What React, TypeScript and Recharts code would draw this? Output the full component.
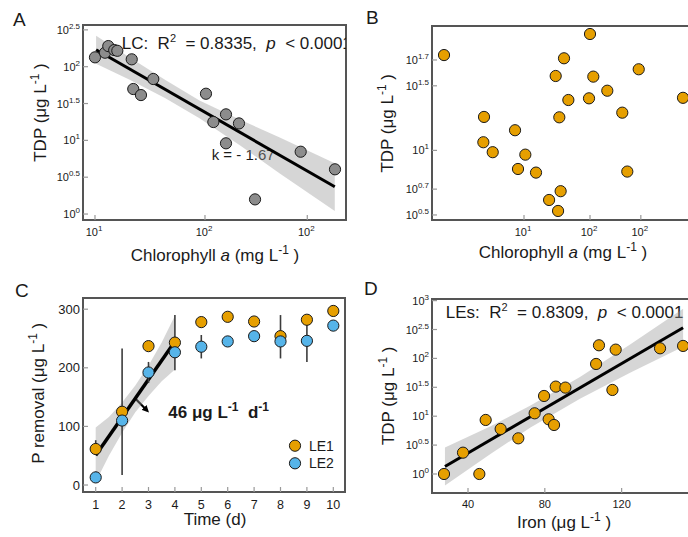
import React from 'react';
import {
  ComposedChart,
  Scatter,
  Line,
  Area,
  XAxis,
  YAxis,
  ErrorBar,
  Customized,
} from 'recharts';

const FONT = '"Liberation Sans", Arial, Helvetica, sans-serif';
const ORANGE = '#E69F00';
const BLUE = '#56B4E9';
const GREY_PT = '#8c8c8c';
const BAND = '#999999';
const FRAME = '#555555';
const TICK = '#999999';
const INK = '#1a1a1a';

// ---- Panel A: log10 chlorophyll a vs log10 TDP (LC) ----
const lcChl = [1.0, 1.091, 1.121, 1.175, 1.203, 1.334, 1.53, 1.348, 1.418, 2.009, 2.076, 2.191, 2.309, 2.191, 2.455, 2.87, 3.182];
const lcTdp = [2.127, 2.19, 2.28, 2.226, 2.216, 2.1, 1.833, 1.697, 1.615, 1.633, 1.249, 1.353, 1.23, 0.96, 0.199, 0.846, 0.607];
const lcBandX = [1.01, 1.32, 1.64, 1.95, 2.32, 2.68, 3.18];
const lcBandLo = [2.04, 1.82, 1.57, 1.3, 0.93, 0.55, 0.04];
const lcBandHi = [2.42, 2.12, 1.82, 1.54, 1.28, 1.04, 0.69];
const lcFit = [2.23, null, null, null, null, null, 0.37];
const lcXTicks = [1, 2, 2.93];
const lcXTickLabels = ['1', '2', '2'];
const lcYTicks = [0, 0.5, 1, 1.5, 2, 2.5];

// ---- Panel B: chlorophyll a vs TDP (LE) ----
const leChl = [-0.212, 2.0, 1.606, 1.48, 2.05, 2.738, 2.262, 1.672, 1.985, 3.409, 0.394, 1.535, 2.489, 0.864, 0.384, 0.526, 1.02, 0.909, 1.182, 2.565, 1.555, 1.38, 1.516];
const leTdp = [1.738, 1.901, 1.713, 1.576, 1.571, 1.628, 1.462, 1.39, 1.403, 1.407, 1.259, 1.256, 1.292, 1.156, 1.063, 0.986, 0.967, 0.856, 0.828, 0.836, 0.684, 0.616, 0.531];
const leXTicks = [1, 2, 2.77];
const leXTickLabels = ['1', '2', '2'];
const leYTicks = [0.5, 0.7, 1, 1.5, 1.7];

// ---- Panel C: P removal over time ----
const days = [1, 2, 3, 4, 5, 6, 7, 8, 9, 10];
const le1Removal = [61.5, 125, 237, 243, 278, 287, 279, 254, 282, 297];
const le2Removal = [13, 110, 192, 226.5, 236, 245, 254, 245, 246, 272];
const le1Err = [[8, 15], [108, 108], 0, [47, 47], 0, 0, 0, [38, 36], 0, 0];
const le2Err = [[9, 10], 0, [18, 18], 0, [20, 20], 0, 0, 0, [36, 27], 0];
const rateBandX = [1, 1.5, 2, 2.5, 3, 3.5, 4];
const rateBandLo = [5, 50, 89, 124, 152, 177, 197];
const rateBandHi = [98, 116, 141, 170, 204, 243, 289];
const rateFit = [51, null, null, null, null, null, 245];
const cYTicks = [0, 100, 200, 300];

// ---- Panel D: iron vs log10 TDP (LEs) ----
const iron = [27.5, 37.4, 45.9, 49.2, 57.0, 66.2, 74.7, 79.6, 82.0, 84.8, 85.7, 90.7, 106.7, 108.2, 115.2, 116.9, 140, 152];
const ironTdp = [0, 0.369, 0, 0.935, 0.779, 0.617, 1.05, 1.35, 0.946, 0.848, 1.512, 1.495, 1.904, 2.227, 1.454, 2.152, 2.175, 2.216];
const ironBandX = [28, 51.5, 72.3, 98.3, 124.4, 152];
const ironBandLo = [-0.2, 0.34, 0.8, 1.3, 1.75, 2.2];
const ironBandHi = [0.46, 0.82, 1.18, 1.68, 2.24, 2.86];
const ironFit = [0.13, null, null, null, null, 2.53];
const dXTicks = [40, 80, 120];
const dYTicks = [0, 0.5, 1, 1.5, 2, 2.5, 3];

const zipXY = (xs: number[], ys: number[]) => xs.map((x, i) => ({ x, y: ys[i] }));
const zipBand = (xs: number[], lo: number[], hi: number[], fit: (number | null)[]) =>
  xs.map((x, i) => ({ x, band: [lo[i], hi[i]], fit: fit[i] }));

const lcPoints = zipXY(lcChl, lcTdp);
const lcBand = zipBand(lcBandX, lcBandLo, lcBandHi, lcFit);
const lePoints = zipXY(leChl, leTdp);
const le1Points = days.map((x, i) => ({ x, y: le1Removal[i], err: le1Err[i] }));
const le2Points = days.map((x, i) => ({ x, y: le2Removal[i], err: le2Err[i] }));
const rateBand = zipBand(rateBandX, rateBandLo, rateBandHi, rateFit);
const ironPoints = zipXY(iron, ironTdp);
const ironBand = zipBand(ironBandX, ironBandLo, ironBandHi, ironFit);

const dot = (fill: string) => (p: any) => (
  <circle cx={p.cx} cy={p.cy} r={5.6} fill={fill} stroke={INK} strokeWidth={1} />
);
const noDot = () => <g />;

// tick with "10^x" label, tick mark drawn inward from the frame
function PowTick(props: any) {
  const { x, y, index, payload, side, edge, labels } = props;
  const exp = labels ? labels[index] : String(payload.value);
  if (side === 'left') {
    return (
      <g>
        <line x1={edge} x2={edge + 5} y1={y} y2={y} stroke={TICK} strokeWidth={1.2} />
        <text x={edge - 3} y={y + 4} textAnchor="end" fontFamily={FONT} fontSize={11} fill={INK}>
          <tspan>10</tspan>
          <tspan dy={-5} fontSize={8}>{exp}</tspan>
        </text>
      </g>
    );
  }
  return (
    <g>
      <line x1={x} x2={x} y1={edge} y2={edge - 5} stroke={TICK} strokeWidth={1.2} />
      <text x={x - 1} y={edge + 16} textAnchor="middle" fontFamily={FONT} fontSize={11} fill={INK}>
        <tspan>10</tspan>
        <tspan dy={-5} fontSize={8}>{exp}</tspan>
      </text>
    </g>
  );
}

function NumTick(props: any) {
  const { x, y, payload, side, edge, fs = 13, gap = 16 } = props;
  if (side === 'left') {
    return (
      <g>
        <line x1={edge} x2={edge + 5} y1={y} y2={y} stroke={TICK} strokeWidth={1.2} />
        <text x={edge - 3} y={y + fs * 0.36} textAnchor="end" fontFamily={FONT} fontSize={fs} fill={INK}>
          {payload.value}
        </text>
      </g>
    );
  }
  return (
    <g>
      <line x1={x} x2={x} y1={edge} y2={edge - 5} stroke={TICK} strokeWidth={1.2} />
      <text x={x} y={edge + gap} textAnchor="middle" fontFamily={FONT} fontSize={fs} fill={INK}>
        {payload.value}
      </text>
    </g>
  );
}

const pre = { whiteSpace: 'pre' } as React.CSSProperties;

function UnitText({ x, y, lead, rotate = false, anchor = 'middle' }: any) {
  return (
    <text
      x={x}
      y={y}
      textAnchor={anchor}
      fontSize={17}
      style={pre}
      transform={rotate ? `rotate(-90 ${x} ${y})` : undefined}
    >
      {lead}
      <tspan dy={-7} fontSize={12}>-1</tspan>
      <tspan dy={7}> )</tspan>
    </text>
  );
}

// grey box round the plotting region
const FrameRect = ({ x, y, w, h }: any) => (
  <path
    d={`M${x},${y} H${x + w} V${y + h} H${x} Z`}
    fill="none"
    stroke={FRAME}
    strokeWidth={2}
  />
);

const TextA = () => (
  <g fontFamily={FONT} fill={INK}>
    <defs>
      <clipPath id="clipA">
        <rect x={83} y={25} width={263} height={195} />
      </clipPath>
    </defs>
    <FrameRect x={83} y={25} w={263} h={195} />
    <text x={13} y={26} fontSize={19}>A</text>
    <text x={121.7} y={48.5} fontSize={17} clipPath="url(#clipA)" style={pre}>
      <tspan>LC:  R</tspan>
      <tspan dy={-7} fontSize={11}>2</tspan>
      <tspan dy={7}>  = 0.8335,  </tspan>
      <tspan fontStyle="italic">p</tspan>
      <tspan>  &lt; 0.0001</tspan>
    </text>
    <text x={211.7} y={160} fontSize={15}>k = - 1.67</text>
    <UnitText x={215} y={261} lead={<><tspan>Chlorophyll </tspan><tspan fontStyle="italic">a</tspan><tspan> (mg L</tspan></>} />
    <UnitText x={45.5} y={112.5} rotate lead={<tspan>TDP (μg L</tspan>} />
  </g>
);

const TextB = () => (
  <g fontFamily={FONT} fill={INK}>
    <FrameRect x={88} y={26} w={258} h={194} />
    <text x={22} y={24} fontSize={19}>B</text>
    <UnitText x={219} y={258} lead={<><tspan>Chlorophyll </tspan><tspan fontStyle="italic">a</tspan><tspan> (mg L</tspan></>} />
    <UnitText x={49} y={123.3} rotate lead={<tspan>TDP (μg L</tspan>} />
  </g>
);

const TextC = () => (
  <g fontFamily={FONT} fill={INK}>
    <defs>
      <marker id="arrowC" viewBox="0 0 10 10" refX="6" refY="5" markerWidth="3.2" markerHeight="3.2" orient="auto">
        <path d="M0,0 L10,5 L0,10 z" fill="#000" />
      </marker>
    </defs>
    <FrameRect x={83} y={28} w={262} h={194} />
    <text x={15} y={26.5} fontSize={19}>C</text>
    <line x1={135} y1={128.3} x2={147} y2={140.5} stroke="#000" strokeWidth={2.2} markerEnd="url(#arrowC)" />
    <text x={168.3} y={148.3} fontSize={17} fontWeight="bold" style={pre}>
      <tspan>46 μg L</tspan>
      <tspan dy={-7} fontSize={12}>-1</tspan>
      <tspan dy={7}>  d</tspan>
      <tspan dy={-7} fontSize={12}>-1</tspan>
    </text>
    <circle cx={295} cy={175.7} r={5.6} fill={ORANGE} stroke={INK} />
    <circle cx={295} cy={193.3} r={5.6} fill={BLUE} stroke={INK} />
    <text x={309} y={180.5} fontSize={14}>LE1</text>
    <text x={309} y={198} fontSize={14}>LE2</text>
    <text x={215} y={255} fontSize={17} textAnchor="middle">Time (d)</text>
    <UnitText x={44} y={123.3} rotate lead={<tspan>P removal (μg L</tspan>} />
  </g>
);

const TextD = () => (
  <g fontFamily={FONT} fill={INK}>
    <FrameRect x={88} y={29} w={258} h={194} />
    <text x={20} y={25} fontSize={19}>D</text>
    <text x={101.7} y={47.7} fontSize={17} style={pre}>
      <tspan>LEs:  R</tspan>
      <tspan dy={-7} fontSize={11}>2</tspan>
      <tspan dy={7}>  = 0.8309,  </tspan>
      <tspan fontStyle="italic">p</tspan>
      <tspan>  &lt; 0.0001</tspan>
    </text>
    <UnitText x={220} y={258.3} lead={<tspan>Iron (μg L</tspan>} />
    <UnitText x={50} y={125.8} rotate lead={<tspan>TDP (μg L</tspan>} />
  </g>
);

function PanelA() {
  const xd = [0.891, 3.282];
  const yd = [-0.081, 2.566];
  return (
    <div style={{ position: 'absolute', left: 0, top: 0, width: 350, height: 270 }}>
      <ComposedChart width={350} height={270} data={lcBand} margin={{ top: 25, right: 4, left: 0, bottom: 0 }}>
        <XAxis type="number" dataKey="x" domain={xd} allowDataOverflow ticks={lcXTicks} interval={0}
          tickLine={false} axisLine={false} height={50}
          tick={<PowTick side="bottom" edge={220} labels={lcXTickLabels} />} />
        <YAxis type="number" dataKey="y" domain={yd} allowDataOverflow ticks={lcYTicks} interval={0}
          tickLine={false} axisLine={false} width={83}
          tick={<PowTick side="left" edge={83} />} />
        <Scatter data={lcPoints} shape={dot(GREY_PT)} isAnimationActive={false} />
        <Area dataKey="band" type="linear" stroke="none" fill={BAND} fillOpacity={0.4} isAnimationActive={false} />
        <Line dataKey="fit" stroke="#000" strokeWidth={3} dot={false} connectNulls isAnimationActive={false} />
        <Customized component={<TextA />} />
      </ComposedChart>
    </div>
  );
}

function PanelB() {
  const xd = [-0.394, 3.515];
  const yd = [0.461, 1.963];
  return (
    <div style={{ position: 'absolute', left: 344, top: 0, width: 350, height: 270 }}>
      <ComposedChart width={350} height={270} margin={{ top: 26, right: 4, left: 0, bottom: 0 }}>
        <XAxis type="number" dataKey="x" domain={xd} allowDataOverflow ticks={leXTicks} interval={0}
          tickLine={false} axisLine={false} height={50}
          tick={<PowTick side="bottom" edge={220} labels={leXTickLabels} />} />
        <YAxis type="number" dataKey="y" domain={yd} allowDataOverflow ticks={leYTicks} interval={0}
          tickLine={false} axisLine={false} width={88}
          tick={<PowTick side="left" edge={88} />} />
        <Scatter data={lePoints} shape={dot(ORANGE)} isAnimationActive={false} />
        <Customized component={<TextB />} />
      </ComposedChart>
    </div>
  );
}

function PanelC() {
  const xd = [0.519, 10.443];
  const yd = [-11.9, 319.1];
  return (
    <div style={{ position: 'absolute', left: 0, top: 270, width: 350, height: 267 }}>
      <ComposedChart width={350} height={267} data={rateBand} margin={{ top: 28, right: 5, left: 0, bottom: 0 }}>
        <XAxis type="number" dataKey="x" domain={xd} allowDataOverflow ticks={days} interval={0}
          tickLine={false} axisLine={false} height={45}
          tick={<NumTick side="bottom" edge={222} fs={12.5} gap={16.5} />} />
        <YAxis type="number" dataKey="y" domain={yd} allowDataOverflow ticks={cYTicks} interval={0}
          tickLine={false} axisLine={false} width={83}
          tick={<NumTick side="left" edge={83} fs={13} />} />
        <Area dataKey="band" type="linear" stroke="none" fill={BAND} fillOpacity={0.4} isAnimationActive={false} />
        <Line dataKey="fit" stroke="#000" strokeWidth={3.5} dot={false} connectNulls isAnimationActive={false} />
        <Scatter data={le1Points} shape={noDot} isAnimationActive={false}>
          <ErrorBar dataKey="err" direction="y" width={0} stroke="#3c3c3c" strokeWidth={1.6} isAnimationActive={false} />
        </Scatter>
        <Scatter data={le2Points} shape={noDot} isAnimationActive={false}>
          <ErrorBar dataKey="err" direction="y" width={0} stroke="#3c3c3c" strokeWidth={1.6} isAnimationActive={false} />
        </Scatter>
        <Scatter data={le1Points} shape={dot(ORANGE)} isAnimationActive={false} />
        <Scatter data={le2Points} shape={dot(BLUE)} isAnimationActive={false} />
        <Customized component={<TextC />} />
      </ComposedChart>
    </div>
  );
}

function PanelD() {
  const xd = [21.25, 155.6];
  const yd = [-0.329, 3.028];
  return (
    <div style={{ position: 'absolute', left: 344, top: 270, width: 350, height: 267 }}>
      <ComposedChart width={350} height={267} data={ironBand} margin={{ top: 29, right: 4, left: 0, bottom: 0 }}>
        <XAxis type="number" dataKey="x" domain={xd} allowDataOverflow ticks={dXTicks} interval={0}
          tickLine={false} axisLine={false} height={44}
          tick={<NumTick side="bottom" edge={223} fs={11} gap={14.5} />} />
        <YAxis type="number" dataKey="y" domain={yd} allowDataOverflow ticks={dYTicks} interval={0}
          tickLine={false} axisLine={false} width={88}
          tick={<PowTick side="left" edge={88} />} />
        <Scatter data={ironPoints} shape={dot(ORANGE)} isAnimationActive={false} />
        <Area dataKey="band" type="linear" stroke="none" fill={BAND} fillOpacity={0.4} isAnimationActive={false} />
        <Line dataKey="fit" stroke="#000" strokeWidth={3} dot={false} connectNulls isAnimationActive={false} />
        <Customized component={<TextD />} />
      </ComposedChart>
    </div>
  );
}

export default function App() {
  return (
    <div style={{ position: 'relative', width: 688, height: 537, overflow: 'hidden', background: '#fff', fontFamily: FONT }}>
      <style>{'body{margin:0}'}</style>
      <PanelA />
      <PanelB />
      <PanelC />
      <PanelD />
    </div>
  );
}
